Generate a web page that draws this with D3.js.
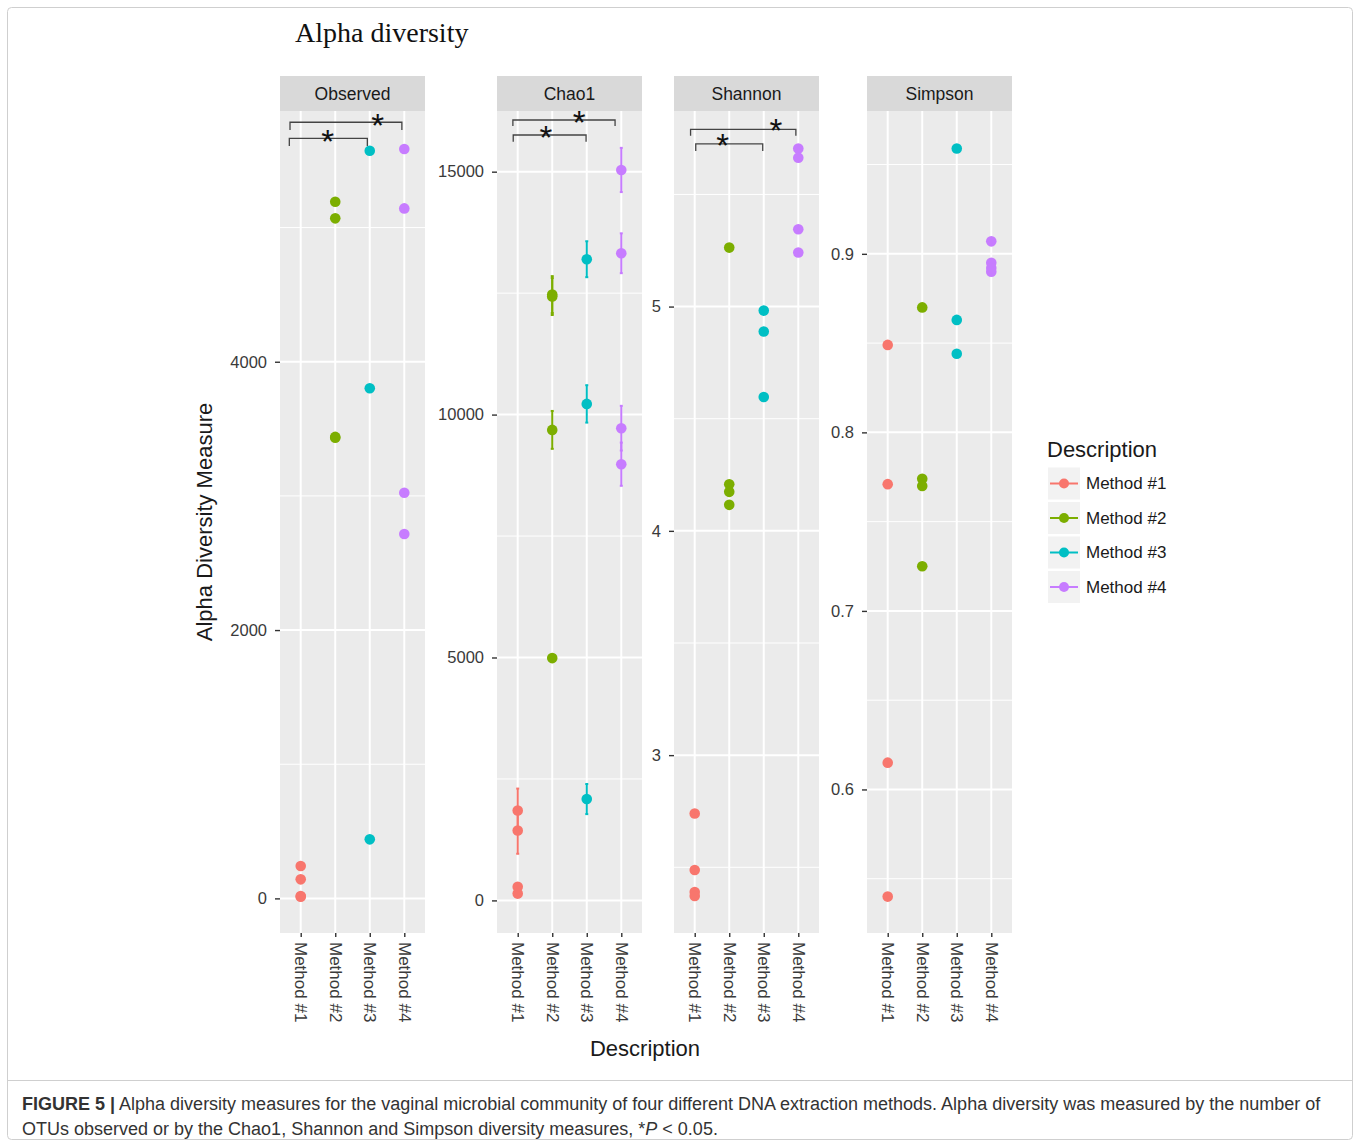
<!DOCTYPE html>
<html>
<head>
<meta charset="utf-8">
<script src="https://cdn.jsdelivr.net/npm/d3@7"></script>
<style>
  html, body { margin: 0; padding: 0; background: #ffffff; }
  svg text { font-family: "Liberation Sans", Arial, Helvetica, sans-serif; }
</style>
</head>
<body>
<svg id="fig" width="1360" height="1147"></svg>
<script>
// ---- data -------------------------------------------------------------
const methods = ["Method #1", "Method #2", "Method #3", "Method #4"];
const measures = ["Observed", "Chao1", "Shannon", "Simpson"];
const methodColors = ["#F8766D", "#7CAE00", "#00BFC4", "#C77CFF"];

// per-sample richness / diversity, grouped by extraction method
const observedValues = [
  [241, 142, 17, 12],
  [5193, 5069, 3440, 3433],
  [5573, 3802, 440],
  [5586, 5143, 3024, 2716]
];
const chao1Values = [
  [1852, 1440, 282, 140],
  [12470, 12430, 9685, 4988],
  [13198, 10220, 2086],
  [15035, 13321, 9720, 8979]
];
const chao1SE = [
  [450, 480, 60, 40],
  [380, 380, 390, 60],
  [370, 385, 310],
  [455, 410, 460, 445]
];
const shannonValues = [
  [2.740, 2.488, 2.390, 2.372],
  [5.263, 4.208, 4.174, 4.116],
  [4.982, 4.889, 4.597],
  [5.705, 5.664, 5.345, 5.241]
];
const simpsonValues = [
  [0.849, 0.771, 0.615, 0.540],
  [0.870, 0.774, 0.770, 0.725],
  [0.959, 0.863, 0.844],
  [0.907, 0.895, 0.892, 0.890]
];

// axis ticks per facet
const observedTicks = [0, 2000, 4000];
const chao1Ticks = [0, 5000, 10000, 15000];
const shannonTicks = [3, 4, 5];
const simpsonTicks = [0.6, 0.7, 0.8, 0.9];

// significance brackets (x in method positions, y in measure units)
const observedBrackets = [
  { x1: 0.69, x2: 3.93, y: 5785, tip: 5727, starX: 3.23, starY: 5816 },
  { x1: 0.67, x2: 2.93, y: 5665, tip: 5608, starX: 1.78, starY: 5700 }
];
const chao1Brackets = [
  { x1: 0.86, x2: 3.82, y: 16064, tip: 15940, starX: 2.78, starY: 16167 },
  { x1: 0.87, x2: 2.98, y: 15755, tip: 15617, starX: 1.82, starY: 15858 }
];
const shannonBrackets = [
  { x1: 0.88, x2: 3.93, y: 5.790, tip: 5.762, starX: 3.35, starY: 5.818 },
  { x1: 1.03, x2: 2.97, y: 5.725, tip: 5.694, starX: 1.81, starY: 5.751 }
];

// ---- facet definitions --------------------------------------------------
const facets = [
  { name: "Observed", values: observedValues, se: null, ticks: observedTicks,
    domain: [-258, 5869], brackets: observedBrackets, left: 280 },
  { name: "Chao1", values: chao1Values, se: chao1SE, ticks: chao1Ticks,
    domain: [-671, 16249], brackets: chao1Brackets, left: 497 },
  { name: "Shannon", values: shannonValues, se: null, ticks: shannonTicks,
    domain: [2.207, 5.872], brackets: shannonBrackets, left: 674 },
  { name: "Simpson", values: simpsonValues, se: null, ticks: simpsonTicks,
    domain: [0.5196, 0.980], brackets: [], left: 867 }
];

const panelW = 145, panelTop = 111, panelBottom = 933, stripTop = 76;
const svg = d3.select("#fig");

// figure frame and caption rule
svg.append("rect").attr("x", 7.5).attr("y", 7.5).attr("width", 1345).attr("height", 1132)
  .attr("rx", 4).attr("fill", "none").attr("stroke", "#cfcfcf").attr("stroke-width", 1);
svg.append("line").attr("x1", 8).attr("x2", 1352).attr("y1", 1080.5).attr("y2", 1080.5)
  .attr("stroke", "#cfcfcf").attr("stroke-width", 1);

// title
svg.append("text").attr("x", 295).attr("y", 42)
  .style("font-family", "'Liberation Serif', 'Times New Roman', serif")
  .style("font-size", "28px").attr("fill", "#111").text("Alpha diversity");

facets.forEach(f => {
  const x = d3.scaleLinear().domain([0.4, 4.6]).range([f.left, f.left + panelW]);
  const y = d3.scaleLinear().domain(f.domain).range([panelBottom, panelTop]);
  const g = svg.append("g");

  // strip
  g.append("rect").attr("x", f.left).attr("y", stripTop).attr("width", panelW)
    .attr("height", panelTop - stripTop).attr("fill", "#d9d9d9");
  g.append("text").attr("x", f.left + panelW / 2).attr("y", (stripTop + panelTop) / 2)
    .attr("text-anchor", "middle").attr("dominant-baseline", "central")
    .style("font-size", "17.5px").attr("fill", "#1a1a1a").text(f.name);

  // panel background
  g.append("rect").attr("x", f.left).attr("y", panelTop).attr("width", panelW)
    .attr("height", panelBottom - panelTop).attr("fill", "#ebebeb");

  // minor gridlines halfway between major ticks
  const step = f.ticks[1] - f.ticks[0];
  const minor = [];
  for (let v = f.ticks[0] - step / 2; v <= f.domain[1]; v += step) {
    if (v >= f.domain[0]) minor.push(v);
  }
  g.selectAll(".minor").data(minor).join("line")
    .attr("x1", f.left).attr("x2", f.left + panelW)
    .attr("y1", d => y(d)).attr("y2", d => y(d))
    .attr("stroke", "#ffffff").attr("stroke-width", 1);
  g.selectAll(".major").data(f.ticks).join("line")
    .attr("x1", f.left).attr("x2", f.left + panelW)
    .attr("y1", d => y(d)).attr("y2", d => y(d))
    .attr("stroke", "#ffffff").attr("stroke-width", 2);
  g.selectAll(".vgrid").data([1, 2, 3, 4]).join("line")
    .attr("x1", d => x(d)).attr("x2", d => x(d))
    .attr("y1", panelTop).attr("y2", panelBottom)
    .attr("stroke", "#ffffff").attr("stroke-width", 2);

  // y axis
  const yAxis = g.append("g").attr("transform", `translate(${f.left},0)`)
    .call(d3.axisLeft(y).tickValues(f.ticks).tickSize(5).tickPadding(8).tickFormat(d => String(d)));
  yAxis.select(".domain").remove();
  yAxis.selectAll(".tick line").attr("stroke", "#333333").attr("stroke-width", 1.4);
  yAxis.selectAll(".tick text").style("font-size", "16.5px").attr("fill", "#3a3a3a")
    .style("font-family", "'Liberation Sans', Arial, sans-serif");

  // x axis
  const xAxis = g.append("g").attr("transform", `translate(0,${panelBottom})`)
    .call(d3.axisBottom(x).tickValues([1, 2, 3, 4]).tickSize(4).tickPadding(0)
      .tickFormat(d => methods[d - 1]));
  xAxis.select(".domain").remove();
  xAxis.selectAll(".tick line").attr("stroke", "#333333").attr("stroke-width", 1.4);
  xAxis.selectAll(".tick text")
    .style("font-size", "17px").attr("fill", "#3a3a3a")
    .style("font-family", "'Liberation Sans', Arial, sans-serif")
    .attr("text-anchor", "start").attr("x", 0).attr("y", 0)
    .attr("dy", "0.35em")
    .attr("transform", "translate(0,9) rotate(90)");

  // error bars
  if (f.se) {
    f.values.forEach((vals, mi) => {
      vals.forEach((v, k) => {
        const s = f.se[mi][k];
        const cx = x(mi + 1);
        g.append("line").attr("x1", cx).attr("x2", cx)
          .attr("y1", y(v - s)).attr("y2", y(v + s))
          .attr("stroke", methodColors[mi]).attr("stroke-width", 2);
        [v - s, v + s].forEach(e => {
          g.append("line").attr("x1", cx - 1.5).attr("x2", cx + 1.5)
            .attr("y1", y(e)).attr("y2", y(e))
            .attr("stroke", methodColors[mi]).attr("stroke-width", 2);
        });
      });
    });
  }

  // points
  f.values.forEach((vals, mi) => {
    g.selectAll(null).data(vals).join("circle")
      .attr("cx", x(mi + 1)).attr("cy", d => y(d)).attr("r", 5.3)
      .attr("fill", methodColors[mi]);
  });

  // significance brackets
  f.brackets.forEach(b => {
    g.append("path")
      .attr("d", `M${x(b.x1)},${y(b.tip)}V${y(b.y)}H${x(b.x2)}V${y(b.tip)}`)
      .attr("fill", "none").attr("stroke", "#444").attr("stroke-width", 1.3);
    g.append("text").attr("x", x(b.starX)).attr("y", y(b.starY) + 19)
      .attr("text-anchor", "middle").style("font-size", "33px").attr("fill", "#111")
      .text("*");
  });
});

// axis titles
svg.append("text").attr("transform", "translate(212,522) rotate(-90)")
  .attr("text-anchor", "middle").style("font-size", "22px").attr("fill", "#1a1a1a")
  .text("Alpha Diversity Measure");
svg.append("text").attr("x", 645).attr("y", 1056)
  .attr("text-anchor", "middle").style("font-size", "22px").attr("fill", "#1a1a1a")
  .text("Description");

// legend
const legend = svg.append("g");
legend.append("text").attr("x", 1047).attr("y", 457).style("font-size", "22px")
  .attr("fill", "#1a1a1a").text("Description");
const keyY = d3.scaleLinear().domain([0, 1]).range([483.5, 518]);
methods.forEach((m, i) => {
  const cy = keyY(i);
  legend.append("rect").attr("x", 1048).attr("y", cy - 16).attr("width", 32).attr("height", 32)
    .attr("fill", "#f2f2f2");
  legend.append("line").attr("x1", 1050).attr("x2", 1078).attr("y1", cy).attr("y2", cy)
    .attr("stroke", methodColors[i]).attr("stroke-width", 2);
  legend.append("circle").attr("cx", 1064).attr("cy", cy).attr("r", 5).attr("fill", methodColors[i]);
  legend.append("text").attr("x", 1086).attr("y", cy).attr("dominant-baseline", "central")
    .style("font-size", "17px").attr("fill", "#1a1a1a").text(m);
});

// caption
const cap = svg.append("g").style("font-size", "18px").attr("fill", "#333");
const l1 = cap.append("text").attr("x", 22).attr("y", 1110);
l1.append("tspan").style("font-weight", "bold").text("FIGURE 5 |");
l1.append("tspan").text(" Alpha diversity measures for the vaginal microbial community of four different DNA extraction methods. Alpha diversity was measured by the number of");
const l2 = cap.append("text").attr("x", 22).attr("y", 1135);
l2.append("tspan").text("OTUs observed or by the Chao1, Shannon and Simpson diversity measures, *");
l2.append("tspan").style("font-style", "italic").text("P");
l2.append("tspan").text(" < 0.05.");
</script>
</body>
</html>
